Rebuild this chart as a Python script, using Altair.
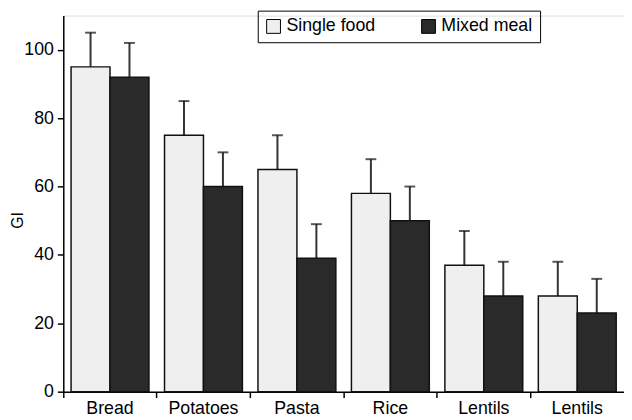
import altair as alt
import pandas as pd

categories = ["Bread", "Potatoes", "Pasta", "Rice", "Lentils", "Lentils"]
groups = ["Single food", "Mixed meal"]
single_food = [95, 75, 65, 58, 37, 28]
mixed_meal = [92, 60, 39, 50, 28, 23]
single_sd = [10, 10, 10, 10, 10, 10]
mixed_sd = [10, 10, 10, 10, 10, 10]
y_ticks = [0, 20, 40, 60, 80, 100]

keys = [f"{i}|{c}" for i, c in enumerate(categories)]
rows = []
for k, v, s in zip(keys, single_food, single_sd):
    rows.append({"key": k, "group": groups[0], "value": v, "upper": v + s})
for k, v, s in zip(keys, mixed_meal, mixed_sd):
    rows.append({"key": k, "group": groups[1], "value": v, "upper": v + s})
df = pd.DataFrame(rows)

FONT = "Liberation Sans"
W, H = 568, 381

x_enc = alt.X(
    "key:N", sort=keys,
    scale=alt.Scale(paddingInner=0, paddingOuter=0),
    axis=alt.Axis(
        title=None, labelExpr="split(datum.label, '|')[1]", bandPosition=0,
        labelAngle=0, tickSize=6, labelPadding=2,
        labelFontSize=18, labelColor="black", labelFont=FONT,
        domainColor="black", tickColor="black", domainWidth=1.5, tickWidth=1.5,
    ),
)
xo_enc = alt.XOffset(
    "group:N", sort=groups,
    scale=alt.Scale(domain=groups, paddingOuter=0.2, paddingInner=0),
)
y_axis = alt.Axis(
    values=y_ticks, title="GI", titleFontSize=16, titleFontWeight="normal",
    titleFont=FONT, titleColor="black", titleX=-46, titleY=207,
    titleAlign="center", titleBaseline="middle", titleAngle=-90,
    labelFontSize=18, labelColor="black", labelFont=FONT, labelPadding=4,
    tickSize=6, tickColor="black", tickWidth=1.5, domainColor="black",
    domainWidth=1.5, grid=False,
)
y_scale = alt.Scale(domain=[0, 110], nice=False)

base = alt.Chart(df)

rules = base.mark_rule(color="#333333", strokeWidth=2).encode(
    x=x_enc, xOffset=xo_enc,
    y=alt.Y("value:Q", scale=y_scale, axis=y_axis),
    y2="upper:Q",
)

bars = base.mark_bar(stroke="#111111", strokeWidth=1.5).encode(
    x=x_enc, xOffset=xo_enc,
    y=alt.Y("value:Q", scale=y_scale, axis=y_axis),
    fill=alt.Fill(
        "group:N",
        scale=alt.Scale(domain=groups, range=["#efefef", "#2a2a2a"]),
        legend=alt.Legend(
            title=None, orient="none", legendX=197, legendY=-5,
            direction="horizontal", symbolType="square", symbolSize=196,
            symbolStrokeColor="black", symbolStrokeWidth=1,
            labelFontSize=18, labelColor="black", labelFont=FONT,
            columnPadding=44, labelOffset=4, padding=7, strokeColor="black",
        ),
    ),
)

caps = base.mark_tick(color="#111111", thickness=2, size=11, orient="horizontal").encode(
    x=x_enc, xOffset=xo_enc,
    y=alt.Y("upper:Q", scale=y_scale, axis=y_axis),
)

chart = (
    alt.layer(rules, bars, caps)
    .properties(
        width=W, height=H,
        padding={"left": 56, "top": 5, "right": 0, "bottom": 26},
        autosize=alt.AutoSizeParams(type="none"),
        background="white",
    )
    .configure_view(stroke=None)
    .configure(font=FONT)
)

chart.save("out.html", embed_options={"renderer": "svg", "actions": False})
